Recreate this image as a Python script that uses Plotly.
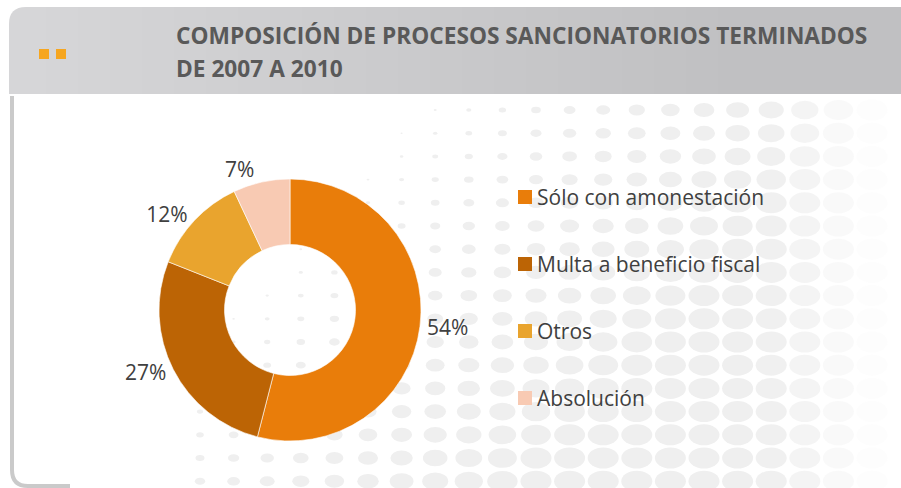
import plotly.graph_objects as go

# ---- data ----
labels = ["Sólo con amonestación", "Multa a beneficio fiscal", "Otros", "Absolución"]
values = [54, 27, 12, 7]
colors = ["#E97D0A", "#BC6405", "#E9A42E", "#F8CAB3"]
title_lines = ["COMPOSICIÓN DE PROCESOS SANCIONATORIOS TERMINADOS", "DE 2007 A 2010"]

W, H = 901, 488
FONT = "Open Sans"
TXT = "#404040"

fig = go.Figure()

# invisible pixel axes for decoration
fig.add_trace(go.Scatter(x=[0, W], y=[0, H], mode="markers", marker=dict(opacity=0),
                         showlegend=False, hoverinfo="skip"))

fig.add_trace(go.Pie(
    labels=labels, values=values, sort=False, direction="clockwise", rotation=0,
    hole=0.5, marker=dict(colors=colors, line=dict(color="rgba(255,255,255,0.6)", width=1)),
    texttemplate="%{percent:.0%}", textposition="outside",
    outsidetextfont=dict(family=FONT, size=21, color=TXT),
    domain=dict(x=[159 / W, 421 / W], y=[1 - 441 / H, 1 - 179 / H]),
    showlegend=False, hoverinfo="label+percent",
))

shapes = []

def clamp(v, a, b):
    return max(a, min(b, v))

# dot pattern (decoration)
y = 110.0
while y < H + 10:
    x = 200.0
    while x < 900:
        t = clamp((x - 390) / 470 + (y - 110) / 500, 0, 1)
        w, h = 31 * t, 21 * t
        op = clamp((885 - x) / 120, 0, 1)
        if w >= 2 and op > 0.02:
            shapes.append(dict(type="circle", xref="x", yref="y", layer="below",
                               x0=x - w / 2, x1=x + w / 2, y0=y - h / 2, y1=y + h / 2,
                               fillcolor="#EFEFEF", opacity=op, line=dict(width=0)))
        x += 33.6
    y += 23.2

# header band with gradient
def lerp_color(c1, c2, f):
    return "rgb(%d,%d,%d)" % tuple(round(a + (b - a) * f) for a, b in zip(c1, c2))

left_c, right_c = (214, 214, 216), (192, 192, 194)
shapes.append(dict(type="path", xref="x", yref="y", layer="below",
                   path="M 9,94 L 9,24 Q 9,7 26,7 L 40,7 L 40,94 Z",
                   fillcolor=lerp_color(left_c, right_c, 0), line=dict(width=0)))
step = 8
xs = 30
while xs < W:
    f = clamp((xs - 30) / 700, 0, 1)
    shapes.append(dict(type="rect", xref="x", yref="y", layer="below",
                       x0=xs, x1=xs + step + 0.6, y0=7, y1=94,
                       fillcolor=lerp_color(left_c, right_c, f), line=dict(width=0)))
    xs += step

# left border of panel
shapes.append(dict(type="path", xref="x", yref="y", layer="below",
                   path="M 12,96 L 12,470 Q 12,486 28,486 L 70,486",
                   line=dict(color="#CACACA", width=4)))

# orange header squares
for x0 in (39, 56):
    shapes.append(dict(type="rect", xref="x", yref="y", layer="below",
                       x0=x0, x1=x0 + 10, y0=49, y1=59, fillcolor="#F6A620", line=dict(width=0)))

annotations = []
# watermark
annotations.append(dict(xref="x", yref="y", x=905, y=62, text="<b>UAF</b>", showarrow=False,
                        xanchor="right", yanchor="middle",
                        font=dict(family=FONT, size=120, color="rgba(255,255,255,0.12)")))
# title
for i, line in enumerate(title_lines):
    annotations.append(dict(xref="x", yref="y", x=174, y=35 + 33 * i, text="<b>%s</b>" % line,
                            showarrow=False, xanchor="left", yanchor="middle",
                            font=dict(family=FONT, size=22.7, color="#595959")))

# manual legend
for i, (lab, col) in enumerate(zip(labels, colors)):
    cy = 197 + 67 * i
    shapes.append(dict(type="rect", xref="x", yref="y", x0=518, x1=532, y0=cy - 7, y1=cy + 7,
                       fillcolor=col, line=dict(width=0)))
    annotations.append(dict(xref="x", yref="y", x=535, y=cy, text=lab, showarrow=False,
                            xanchor="left", yanchor="middle",
                            font=dict(family=FONT, size=21, color=TXT)))

fig.update_layout(
    width=W, height=H, margin=dict(l=0, r=0, t=0, b=0),
    paper_bgcolor="white", plot_bgcolor="rgba(0,0,0,0)",
    xaxis=dict(range=[0, W], visible=False, fixedrange=True),
    yaxis=dict(range=[H, 0], visible=False, fixedrange=True),
    shapes=shapes, annotations=annotations, showlegend=False,
)

fig.write_html("out.html", config={"displayModeBar": False},
               post_script="document.body.style.margin='0';document.body.style.overflow='hidden';")
